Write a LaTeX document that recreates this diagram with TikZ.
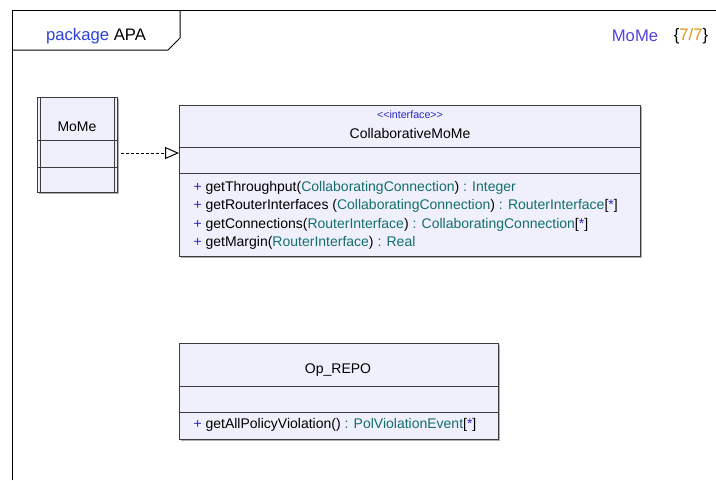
\documentclass[tikz,border=0pt]{standalone}
\usepackage{fontspec}
\setmainfont{Liberation Sans}
\usetikzlibrary{arrows.meta}

\definecolor{pkgblue}{RGB}{45,65,215}
\definecolor{momeblue}{RGB}{85,65,225}
\definecolor{numorange}{RGB}{220,150,30}
\definecolor{plusblue}{RGB}{40,40,200}
\definecolor{typeteal}{RGB}{20,110,110}
\definecolor{boxline}{RGB}{60,60,60}
\definecolor{boxfill}{RGB}{240,240,252}
\definecolor{boxshadow}{RGB}{175,175,175}

\newcommand{\umltype}[1]{\textcolor{typeteal}{#1}}
\newcommand{\umlplus}{\textcolor{plusblue}{+}}
\newcommand{\umlmany}{[\textcolor{plusblue}{*}]}

\tikzset{every picture/.style={line width=0.75pt}}
\tikzset{
  classbox/.style={draw=boxline, fill=boxfill},
  classshadow/.style={fill=boxshadow, draw=none},
  optext/.style={anchor=west, inner sep=0.75pt, font=\fontsize{10.5}{12}\selectfont},
  nametext/.style={inner sep=0.75pt, font=\fontsize{10.5}{12}\selectfont},
  headtext/.style={inner sep=0.75pt, font=\fontsize{12.5}{14}\selectfont},
}

\begin{document}
\begin{tikzpicture}[x=0.75pt,y=0.75pt,yscale=-1,xscale=1]
\useasboundingbox (0,0) rectangle (716,480);
\fill[white] (0,0) rectangle (716,480);

%Frame
\draw [color=black]   (12,480) -- (12,10) -- (716,10) ;
%Tab
\draw [color=black]   (12,50) -- (168,50) -- (180,38) -- (180,10) ;
% Text Node
\draw (96,36) node [headtext] (pkglabel) {\textcolor{pkgblue}{package} APA};
\draw (635,36) node [headtext] (ownerlabel) {\textcolor{momeblue}{MoMe}};
\draw (691,36) node [headtext] (countlabel) {\{\textcolor{numorange}{7/7}\}};

%Class MoMe
\fill [classshadow] (39,99) rectangle (119,194) ;
\draw [classbox] (37,97) rectangle (117,192) ;
\draw [color=boxline]   (40,97) -- (40,192) ;
\draw [color=boxline]   (114,97) -- (114,192) ;
\draw [color=boxline]   (37,140) -- (117,140) ;
\draw [color=boxline]   (37,167) -- (117,167) ;
\draw (77,127) node [nametext] (momename) {MoMe};

%Interface CollaborativeMoMe
\fill [classshadow] (181,107) rectangle (642,258) ;
\draw [classbox] (179,105) rectangle (640,256) ;
\draw [color=boxline]   (179,147) -- (640,147) ;
\draw [color=boxline]   (179,173) -- (640,173) ;
\draw (410,115) node [inner sep=0.75pt, font=\fontsize{8}{9}\selectfont] (collabstereo) {\textcolor{plusblue}{{<}{<}interface{>}{>}}};
\draw (410,133) node [nametext] (collabname) {CollaborativeMoMe};
\draw (192,188) node [optext] (opthroughput) {\umlplus{} getThroughput(\umltype{CollaboratingConnection}) \umltype{: Integer}};
\draw (192,206) node [optext] (oprouter) {\umlplus{} getRouterInterfaces (\umltype{CollaboratingConnection}) \umltype{: RouterInterface}\umlmany};
\draw (192,225) node [optext] (opconnections) {\umlplus{} getConnections(\umltype{RouterInterface}) \umltype{: CollaboratingConnection}\umlmany};
\draw (192,243) node [optext] (opmargin) {\umlplus{} getMargin(\umltype{RouterInterface}) \umltype{: Real}};

%Class Op_REPO
\fill [classshadow] (181,345) rectangle (500,441) ;
\draw [classbox] (179,343) rectangle (498,439) ;
\draw [color=boxline]   (179,386) -- (498,386) ;
\draw [color=boxline]   (179,412) -- (498,412) ;
\draw (338,370) node [nametext] (reponame) {Op\_REPO};
\draw (192,425) node [optext] (oppolicy) {\umlplus{} getAllPolicyViolation() \umltype{: PolViolationEvent}\umlmany};

%Realization
\coordinate (realfrom) at (121,153) ;
\coordinate (realto) at (179,153) ;
\draw [dash pattern=on 2.25pt off 1.5pt, -{Triangle[open, length=10.5pt, width=9pt]}]   (realfrom) -- (realto) ;

\end{tikzpicture}
\end{document}
